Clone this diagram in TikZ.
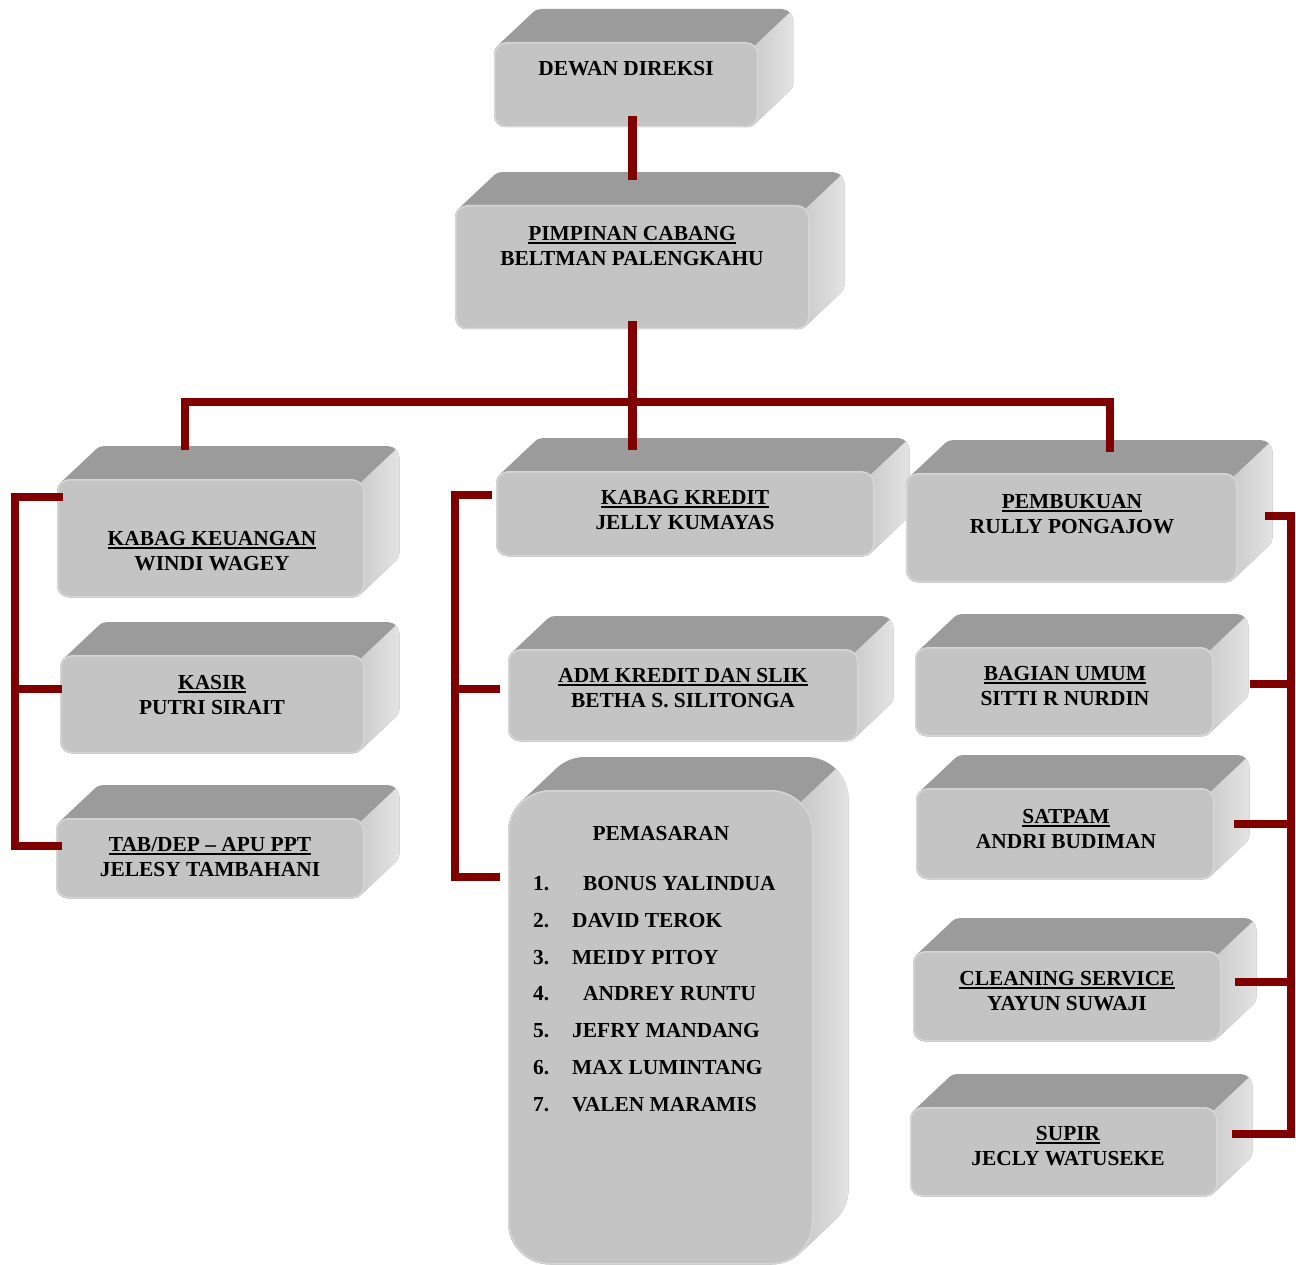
\documentclass[tikz,border=0pt]{standalone}
\usepackage{fontspec}
\setmainfont{Liberation Serif}
\usetikzlibrary{backgrounds}

\definecolor{front}{HTML}{C4C4C4}
\definecolor{frontedge}{HTML}{D6D6D6}
\definecolor{topgray}{HTML}{9B9B9B}
\definecolor{sidein}{HTML}{C6C6C6}
\definecolor{sideout}{HTML}{E6E6E6}
\definecolor{linkred}{HTML}{800000}

% underlined heading line
\newcommand{\hd}[1]{\sbox0{#1}\rlap{\rule[-3.5pt]{\wd0}{2pt}}\usebox0}

\begin{document}
\begin{tikzpicture}
        [x=1pt, y=-1pt,
        box/.style={anchor=north west, draw=frontedge, line width=1.5pt, fill=front, rounded corners=12pt, inner sep=0pt},
        lbl/.style={font=\bfseries\fontsize{21.4}{24.5}\selectfont, align=center, inner sep=0pt},
        topface/.style={fill=topgray},
        sideface/.style={left color=sidein, right color=sideout},
        link/.style={draw=linkred, line width=8.5pt}]

        \useasboundingbox (0,0) rectangle (1296,1265);

        % front faces
        \node[box, minimum width=263pt, minimum height=84pt] (dewan) at (494,42) {};
        \node[box, minimum width=353pt, minimum height=123pt] (pimp) at (455,205) {};
        \node[box, minimum width=306pt, minimum height=117pt] (keu) at (57,479) {};
        \node[box, minimum width=303pt, minimum height=97pt] (kasir) at (60,655) {};
        \node[box, minimum width=307pt, minimum height=79pt] (tab) at (56,818) {};
        \node[box, minimum width=377pt, minimum height=84pt] (kredit) at (496,471) {};
        \node[box, minimum width=349pt, minimum height=91pt] (adm) at (508,649) {};
        \node[box, minimum width=304pt, minimum height=473pt, rounded corners=42pt] (pem) at (508,790) {};
        \node[box, minimum width=330pt, minimum height=108pt] (pemb) at (906,473) {};
        \node[box, minimum width=297pt, minimum height=88pt] (umum) at (915,647) {};
        \node[box, minimum width=297pt, minimum height=90pt] (satpam) at (916,788) {};
        \node[box, minimum width=307pt, minimum height=89pt] (clean) at (913,951) {};
        \node[box, minimum width=306pt, minimum height=88pt] (supir) at (910,1107) {};

        % top and right faces (front face swept back)
        \begin{scope}[on background layer]
        \foreach \n/\r in {dewan/12, pimp/12, keu/12, kasir/12, tab/12, kredit/12, adm/12, pem/42, pemb/12, umum/12, satpam/12, clean/12, supir/12} {
            \begin{scope}
            \clip[rounded corners=\r pt] \foreach \k in {0,...,14} {
                ([shift={(\k*2.5,-\k*2.357)}]\n.north west) rectangle ([shift={(\k*2.5,-\k*2.357)}]\n.south east)};
            \fill[topface] ([shift={(-40,-60)}]\n.north west) rectangle ([shift={(60,0)}]\n.south east);
            \shade[sideface] ([shift={(-15,14.1)}]\n.north east) -- ([shift={(40,-37.7)}]\n.north east)
                -- ([shift={(40,10)}]\n.south east) -- ([shift={(-15,10)}]\n.south east) -- cycle;
            \end{scope}
        }
        \end{scope}

        % labels
        \node[lbl] (dewan-t) at (626,69) {DEWAN DIREKSI};
        \node[lbl] (pimp-t) at (632,246) {\hd{PIMPINAN CABANG}\\BELTMAN PALENGKAHU};
        \node[lbl] (keu-t) at (212,551) {\hd{KABAG KEUANGAN}\\WINDI WAGEY};
        \node[lbl] (kasir-t) at (212,695) {\hd{KASIR}\\PUTRI SIRAIT};
        \node[lbl] (tab-t) at (210,857) {\hd{TAB/DEP – APU PPT}\\JELESY TAMBAHANI};
        \node[lbl] (kredit-t) at (685,510) {\hd{KABAG KREDIT}\\JELLY KUMAYAS};
        \node[lbl] (adm-t) at (683,688) {\hd{ADM KREDIT DAN SLIK}\\BETHA S. SILITONGA};
        \node[lbl] (pemb-t) at (1072,514) {\hd{PEMBUKUAN}\\RULLY PONGAJOW};
        \node[lbl] (umum-t) at (1065,686) {\hd{BAGIAN UMUM}\\SITTI R NURDIN};
        \node[lbl] (satpam-t) at (1066,829) {\hd{SATPAM}\\ANDRI BUDIMAN};
        \node[lbl] (clean-t) at (1067,991) {\hd{CLEANING SERVICE}\\YAYUN SUWAJI};
        \node[lbl] (supir-t) at (1068,1146) {\hd{SUPIR}\\JECLY WATUSEKE};

        % marketing list
        \node[lbl] (pem-t) at (661,834) {PEMASARAN};
        \foreach \i/\nm/\dx in {1/BONUS YALINDUA/50, 2/DAVID TEROK/39, 3/MEIDY PITOY/39, 4/ANDREY RUNTU/50,
                                5/JEFRY MANDANG/39, 6/MAX LUMINTANG/39, 7/VALEN MARAMIS/39} {
            \node[lbl, anchor=base west] (num\i) at (533,{853.5+36.85*\i}) {\i.};
            \node[lbl, anchor=base west] (nm\i) at ([xshift=\dx pt]num\i.base west) {\nm};
        }

        % connectors
        \coordinate (barL) at (185,402);
        \coordinate (barR) at (1110,402);
        \coordinate (lsp) at (15,0);
        \coordinate (msp) at (455,0);
        \coordinate (rsp) at (1291,0);

        \draw[link] ([yshift=11pt]dewan.south -| pimp.north) -- ([yshift=25pt]pimp.north);
        \draw[link] ([yshift=8pt]pimp.south) -- ([yshift=21pt]kredit.north -| pimp.south);
        \draw[link] ([yshift=29pt]keu.north -| barL) -- (barL) -- (barR) -- ([yshift=21pt]pemb.north -| barR);

        % left bracket
        \draw[link] ([xshift=6pt,yshift=-18pt]keu.north west) -| ([yshift=12.5pt]tab.west -| lsp)
            -- ([xshift=6pt,yshift=12.5pt]tab.west);
        \draw[link] ([yshift=15.5pt]kasir.west -| lsp) -- ([xshift=2pt,yshift=15.5pt]kasir.west);

        % middle bracket
        \draw[link] ([xshift=-4pt,yshift=-24pt]kredit.north west) -| ([yshift=-87pt]pem.north west -| msp)
            -- ([xshift=-8pt,yshift=-87pt]pem.north west);
        \draw[link] ([yshift=6.5pt]adm.west -| msp) -- ([xshift=-8pt,yshift=6.5pt]adm.west);

        % right bracket
        \draw[link] ([xshift=27pt,yshift=12pt]pemb.east) -| ([yshift=18pt]supir.east -| rsp)
            -- ([xshift=14pt,yshift=18pt]supir.east);
        \foreach \n/\dx/\dy in {umum/36/8, satpam/19/10, clean/13/14.5}
            \draw[link] ([yshift=\dy pt]\n.east -| rsp) -- ([xshift=\dx pt,yshift=\dy pt]\n.east);

\end{tikzpicture}
\end{document}
